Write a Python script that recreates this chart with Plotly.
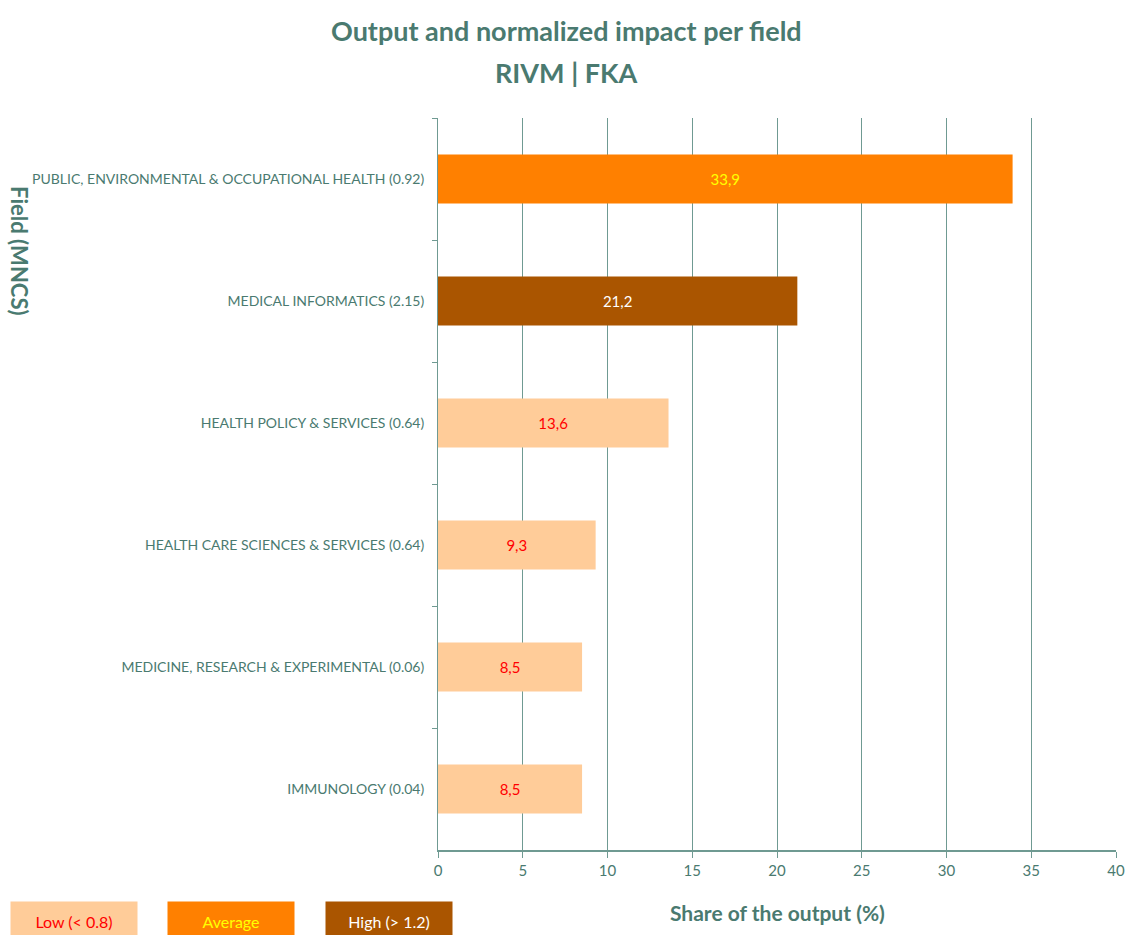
import plotly.graph_objects as go

# ---- data ----
fields = [
    "PUBLIC, ENVIRONMENTAL & OCCUPATIONAL HEALTH",
    "MEDICAL INFORMATICS",
    "HEALTH POLICY & SERVICES",
    "HEALTH CARE SCIENCES & SERVICES",
    "MEDICINE, RESEARCH & EXPERIMENTAL",
    "IMMUNOLOGY",
]
mncs = [0.92, 2.15, 0.64, 0.64, 0.06, 0.04]
share = [33.9, 21.2, 13.6, 9.3, 8.5, 8.5]
x_ticks = [0, 5, 10, 15, 20, 25, 30, 35, 40]

legend_labels = ["Low (< 0.8)", "Average", "High (> 1.2)"]
title_lines = ["Output and normalized impact per field", "RIVM | FKA"]

# ---- styling ----
FONT = "Lato, 'Open Sans', sans-serif"
TEAL = "#4a7a70"
GRID = "#6f9a92"
C_LOW, C_AVG, C_HIGH = "#FFCC99", "#FF8000", "#AA5500"
T_LOW, T_AVG, T_HIGH = "#FF0000", "#FFFF00", "#FFFFFF"


def klass(m):
    if m < 0.8:
        return 0
    if m > 1.2:
        return 2
    return 1


fill = [C_LOW, C_AVG, C_HIGH]
txt = [T_LOW, T_AVG, T_HIGH]

labels = [f"{f} ({m:.2f})" for f, m in zip(fields, mncs)]
bar_colors = [fill[klass(m)] for m in mncs]
text_colors = [txt[klass(m)] for m in mncs]
bar_text = [f"{v:.1f}".replace(".", ",") for v in share]

fig = go.Figure(
    go.Bar(
        x=share,
        y=labels,
        orientation="h",
        width=0.4,
        marker=dict(color=bar_colors, line=dict(width=0)),
        text=bar_text,
        textposition="inside",
        insidetextanchor="middle",
        textangle=0,
        textfont=dict(family=FONT, size=15, color=text_colors),
        hoverinfo="skip",
    )
)

W, H = 1126, 935
L, R, T, B = 438, 10, 118, 85
pw, ph = W - L - R, H - T - B


def px_x(p):
    return (p - L) / pw


def px_y(p):
    return (H - B - p) / ph


fig.update_layout(
    width=W,
    height=H,
    margin=dict(l=L, r=R, t=T, b=B, pad=0),
    paper_bgcolor="white",
    plot_bgcolor="white",
    showlegend=False,
    font=dict(family=FONT, color=TEAL),
    xaxis=dict(
        range=[0, 40],
        tickvals=x_ticks,
        showgrid=True,
        gridcolor=GRID,
        gridwidth=1,
        showline=True,
        linecolor=GRID,
        linewidth=2,
        ticks="outside",
        ticklen=6,
        tickcolor=GRID,
        tickfont=dict(family=FONT, size=15, color=TEAL),
        zeroline=False,
        fixedrange=True,
        automargin=False,
    ),
    yaxis=dict(
        autorange="reversed",
        showline=True,
        linecolor=GRID,
        linewidth=1,
        ticks="outside",
        tickson="boundaries",
        ticklen=5,
        tickcolor=GRID,
        showgrid=False,
        ticklabelstandoff=10,
        tickfont=dict(family=FONT, size=14, color=TEAL),
        fixedrange=True,
        automargin=False,
    ),
)

annotations = [
    dict(
        text=f"<b>{title_lines[0]}</b>",
        xref="paper", yref="paper",
        x=px_x(566), y=px_y(30),
        xanchor="center", yanchor="middle",
        showarrow=False,
        font=dict(family=FONT, size=27, color=TEAL),
    ),
    dict(
        text=f"<b>{title_lines[1]}</b>",
        xref="paper", yref="paper",
        x=px_x(566), y=px_y(72),
        xanchor="center", yanchor="middle",
        showarrow=False,
        font=dict(family=FONT, size=27, color=TEAL),
    ),
    dict(
        text="<b>Share of the output (%)</b>",
        xref="paper", yref="paper",
        x=0.5, y=px_y(912),
        xanchor="center", yanchor="middle",
        showarrow=False,
        font=dict(family=FONT, size=21, color=TEAL),
    ),
    dict(
        text="<b>Field (MNCS)</b>",
        xref="paper", yref="paper",
        x=px_x(20), y=px_y(251),
        xanchor="center", yanchor="middle",
        textangle=90,
        showarrow=False,
        font=dict(family=FONT, size=22, color=TEAL),
    ),
]

box_centers = [74, 231, 389]
for lab, cx, bg, fg in zip(legend_labels, box_centers, fill, txt):
    annotations.append(
        dict(
            text=lab,
            xref="paper", yref="paper",
            x=px_x(cx), y=px_y(901),
            xanchor="center", yanchor="top",
            width=126, height=38,
            bgcolor=bg,
            borderpad=0,
            showarrow=False,
            valign="middle",
            font=dict(family=FONT, size=16, color=fg),
        )
    )

fig.update_layout(annotations=annotations)

fig.write_html(
    "out.html",
    config={"displayModeBar": False},
    post_script="document.body.style.margin='0';document.body.style.overflow='hidden';",
)
